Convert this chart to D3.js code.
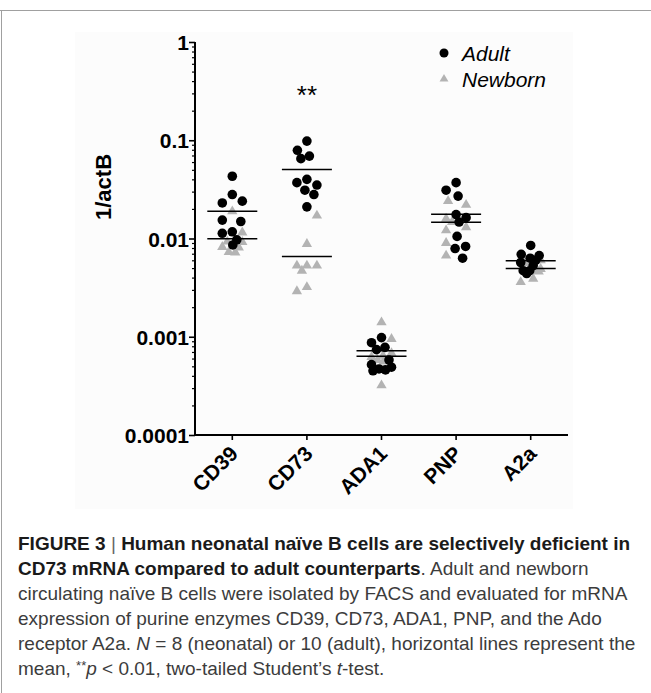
<!DOCTYPE html>
<html>
<head>
<meta charset="utf-8">
<script src="https://cdn.jsdelivr.net/npm/d3@7"></script>
<style>
  body { margin: 0; background: #fff; }
  svg { display: block; }
</style>
</head>
<body>
<div id="chart"></div>
<script>
// categories and values (1/actB, log scale)
var categories = ["CD39", "CD73", "ADA1", "PNP", "A2a"];
var yTickValues = [0.0001, 0.001, 0.01, 0.1, 1];
var yTickLabels = ["0.0001", "0.001", "0.01", "0.1", "1"];
var seriesNames = ["Adult", "Newborn"];

var adultValues = [
    [0.043, 0.028, 0.024, 0.023, 0.0154, 0.0149, 0.0117, 0.0113, 0.0097, 0.0086],
    [0.098, 0.079, 0.069, 0.065, 0.040, 0.037, 0.035, 0.031, 0.028, 0.021],
    [0.00098, 0.00087, 0.00078, 0.00074, 0.00058, 0.00052, 0.00049, 0.00047, 0.00046, 0.00045],
    [0.037, 0.031, 0.027, 0.0175, 0.0163, 0.0147, 0.0105, 0.0083, 0.0079, 0.0063],
    [0.0085, 0.0069, 0.0067, 0.0063, 0.0060, 0.0057, 0.0053, 0.0047, 0.0047, 0.0044]
];
var newbornValues = [
    [0.0189, 0.0115, 0.0093, 0.0092, 0.0082, 0.0081, 0.0073, 0.0072],
    [0.0171, 0.0088, 0.0053, 0.0053, 0.0053, 0.0047, 0.0032, 0.0029],
    [0.0014, 0.00095, 0.00068, 0.00064, 0.00062, 0.00058, 0.00056, 0.00032],
    [0.024, 0.022, 0.0159, 0.0147, 0.0130, 0.0121, 0.0090, 0.0067],
    [0.0063, 0.0060, 0.0056, 0.0049, 0.0047, 0.0046, 0.0039, 0.0036]
];
var significance = ["", "**", "", "", ""];

var width = 651, height = 693;
var margins = {top: 42, right: 83, bottom: 258, left: 195};
var boldFont = "'Liberation Sans', Arial, sans-serif";
var captionFont = "'Liberation Sans Narrow', 'Arial Narrow', 'Liberation Sans', Arial, sans-serif";
var grey = "#b3b3b3";

var svg = d3.select("#chart").append("svg")
    .attr("width", width).attr("height", height);

// page frame (journal layout)
svg.append("line").attr("x1", 0).attr("x2", width).attr("y1", 10.5).attr("y2", 10.5)
    .style("stroke", "#a0a0a0").style("stroke-width", 1);
svg.append("line").attr("x1", 1.5).attr("x2", 1.5).attr("y1", 10).attr("y2", height)
    .style("stroke", "#a0a0a0").style("stroke-width", 1);
svg.append("rect").attr("x", 75).attr("y", 32).attr("width", 498).attr("height", 477)
    .style("fill", "#fcfcfc");

var x = d3.scaleBand()
    .domain(categories)
    .range([margins.left, width - margins.right]);

var y = d3.scaleLog()
    .domain([0.0001, 1])
    .range([height - margins.bottom, margins.top]);

// minor log ticks
var minor = [];
yTickValues.slice(0, -1).forEach(function(d) {
    for (var k = 2; k <= 9; k++) minor.push(d * k);
});

svg.append("g")
    .attr("class", "y-minor")
    .attr("transform", "translate(" + margins.left + ",0)")
    .call(d3.axisLeft(y).tickValues(minor).tickSize(3).tickFormat(""))
    .call(g => g.select(".domain").remove())
    .call(g => g.selectAll("line").style("stroke", "#000").style("stroke-width", 1.2));

svg.append("g")
    .attr("class", "y-axis")
    .attr("transform", "translate(" + margins.left + ",0)")
    .call(d3.axisLeft(y).tickValues(yTickValues).tickSize(6).tickPadding(0)
        .tickFormat(function(d, i) { return yTickLabels[i]; }))
    .call(g => g.select(".domain").attr("d", "M0," + margins.top + "V" + (height - margins.bottom))
        .style("stroke", "#000").style("stroke-width", 2))
    .call(g => g.selectAll("line").style("stroke", "#000").style("stroke-width", 1.6))
    .call(g => g.selectAll("text")
        .style("font-family", boldFont).style("font-weight", "bold")
        .style("font-size", "21px").style("fill", "#000").attr("dy", "0.36em"));

svg.append("g")
    .attr("class", "x-axis")
    .attr("transform", "translate(0," + (height - margins.bottom) + ")")
    .call(d3.axisBottom(x).tickSize(5).tickFormat(""))
    .call(g => g.select(".domain").attr("d", "M" + margins.left + ",0H" + (width - margins.right))
        .style("stroke", "#000").style("stroke-width", 2))
    .call(g => g.selectAll("line").style("stroke", "#000").style("stroke-width", 1.6));

svg.append("g").attr("class", "x-labels")
    .selectAll("text")
    .data(categories)
    .enter().append("text")
    .attr("transform", function(d) {
        return "translate(" + (x(d) + x.bandwidth() / 2 + 7) + "," + (height - margins.bottom + 20) + ") rotate(-45)";
    })
    .style("text-anchor", "end")
    .style("font-family", boldFont).style("font-weight", "bold").style("font-size", "21px")
    .text(function(d) { return d; });

svg.append("text")
    .attr("transform", "translate(111,187) rotate(-90)")
    .style("text-anchor", "middle")
    .style("font-family", boldFont).style("font-weight", "bold").style("font-size", "22px")
    .text("1/actB");

// swarm layout so points in one column don't sit on top of each other
function swarm(points, cx, maxW, diam) {
    var placed = [];
    points.sort(function(a, b) { return a.py - b.py; });
    points.forEach(function(p, i) {
        var best = 0, bestScore = -1;
        for (var s = 0; s <= maxW * 2; s++) {
            var dx = s === 0 ? 0 : Math.ceil(s / 2) * 0.5 * ((s + i) % 2 ? 1 : -1);
            var md = Infinity;
            placed.forEach(function(q) {
                var dd = Math.hypot(q.px - (cx + dx), q.py - p.py);
                if (dd < md) md = dd;
            });
            if (md >= diam) { best = dx; bestScore = Infinity; break; }
            if (md > bestScore) { bestScore = md; best = dx; }
        }
        p.px = cx + best;
        placed.push(p);
    });
    return points;
}

var points = [];
categories.forEach(function(c, ci) {
    var cx = x(c) + x.bandwidth() / 2;
    var col = [];
    adultValues[ci].forEach(function(v) { col.push({cat: c, series: "Adult", value: v, py: y(v)}); });
    newbornValues[ci].forEach(function(v) { col.push({cat: c, series: "Newborn", value: v, py: y(v)}); });
    points = points.concat(swarm(col, cx, 20, 13));
});

var tri = d3.symbol().type(d3.symbolTriangle).size(46);

svg.append("g").attr("class", "newborn")
    .selectAll("path")
    .data(points.filter(d => d.series === "Newborn"))
    .enter().append("path")
    .attr("d", tri)
    .attr("transform", d => "translate(" + d.px + "," + d.py + ")")
    .style("fill", grey);

svg.append("g").attr("class", "adult")
    .selectAll("circle")
    .data(points.filter(d => d.series === "Adult"))
    .enter().append("circle")
    .attr("cx", d => d.px)
    .attr("cy", d => d.py)
    .attr("r", 4.8)
    .style("fill", "#000");

// mean lines
var means = [];
categories.forEach(function(c, ci) {
    means.push({cat: c, value: d3.mean(adultValues[ci])});
    means.push({cat: c, value: d3.mean(newbornValues[ci])});
});
svg.append("g").attr("class", "means")
    .selectAll("line")
    .data(means)
    .enter().append("line")
    .attr("x1", d => x(d.cat) + x.bandwidth() / 2 - 25)
    .attr("x2", d => x(d.cat) + x.bandwidth() / 2 + 25)
    .attr("y1", d => y(d.value))
    .attr("y2", d => y(d.value))
    .style("stroke", "#000").style("stroke-width", 1.5);

svg.append("g").attr("class", "stars")
    .selectAll("text")
    .data(categories)
    .enter().append("text")
    .attr("x", d => x(d) + x.bandwidth() / 2)
    .attr("y", 104)
    .style("text-anchor", "middle")
    .style("font-family", boldFont).style("font-size", "26px")
    .text((d, i) => significance[i]);

// legend
var legend = svg.selectAll(".legend")
    .data(seriesNames)
    .enter().append("g")
    .attr("class", "legend")
    .attr("transform", function(d, i) { return "translate(444," + (53 + i * 26) + ")"; });

legend.append("path")
    .attr("d", function(d) {
        return d === "Adult" ? d3.symbol().type(d3.symbolCircle).size(64)() : d3.symbol().type(d3.symbolTriangle).size(34)();
    })
    .style("fill", d => d === "Adult" ? "#000" : grey);

legend.append("text")
    .attr("x", 18)
    .attr("y", 7.5)
    .style("font-family", boldFont).style("font-style", "italic").style("font-size", "21px")
    .text(d => d);

// figure caption
var captionLines = [
    [["FIGURE 3", "b"], [" | ", "bar"], ["Human neonatal naïve B cells are selectively deficient in", "b"]],
    [["CD73 mRNA compared to adult counterparts", "b"], [". Adult and newborn", "r"]],
    [["circulating naïve B cells were isolated by FACS and evaluated for mRNA", "r"]],
    [["expression of purine enzymes CD39, CD73, ADA1, PNP, and the Ado", "r"]],
    [["receptor A2a. ", "r"], ["N", "i"], [" = 8 (neonatal) or 10 (adult), horizontal lines represent the", "r"]],
    [["mean, ", "r"], ["**", "sup"], ["p", "i"], [" < 0.01, two-tailed Student’s ", "r"], ["t", "i"], ["-test.", "r"]]
];

var caption = svg.append("g").attr("class", "caption")
    .style("font-family", captionFont).style("font-size", "19px");

captionLines.forEach(function(line, li) {
    var t = caption.append("text").attr("x", 18).attr("y", 550 + li * 25);
    line.forEach(function(seg) {
        var ts = t.append("tspan").text(seg[0]);
        if (seg[1] === "b") ts.style("font-weight", "bold").style("fill", "#1a1a1a");
        else ts.style("fill", "#3c3c3c");
        if (seg[1] === "i") ts.style("font-style", "italic");
        if (seg[1] === "bar") ts.style("fill", "#666");
        if (seg[1] === "sup") ts.style("font-size", "13px").attr("dy", "-5");
        if (seg[1] === "i" && li === 5 && seg[0] === "p") ts.attr("dy", "5");
    });
});
</script>
</body>
</html>
